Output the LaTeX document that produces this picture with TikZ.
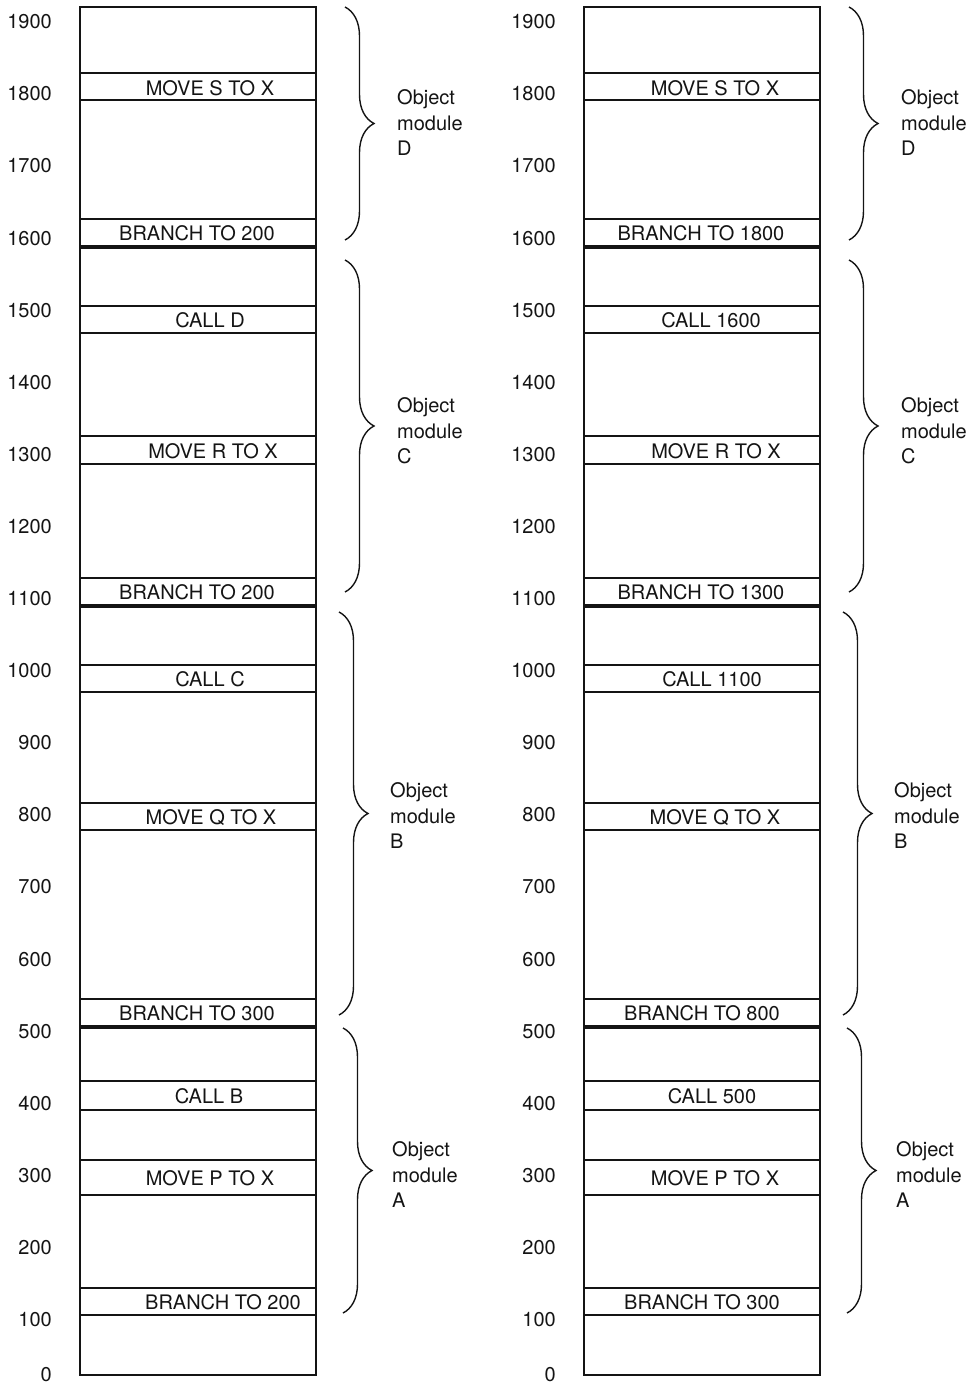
\documentclass[tikz,border=0pt]{standalone}
\usepackage{fontspec}
\setmainfont{TeX Gyre Heros}
\usetikzlibrary{decorations.pathreplacing}
\definecolor{ink}{HTML}{141414}

\begin{document}
\begin{tikzpicture}[x=1pt,y=-1pt,
  text=ink,
  cell/.style={draw=ink,line width=1.3pt},
  split/.style={draw=ink,line width=4.5pt},
  entry/.style={font=\fontsize{20}{24}\selectfont,inner sep=0pt,
    text height=14.4pt,text depth=0pt},
  tick/.style={font=\fontsize{20}{24}\selectfont,anchor=east,inner sep=0pt,
    text height=14.4pt,text depth=0pt},
  module/.style={font=\fontsize{20}{25.5}\selectfont,align=left,
    anchor=west,inner sep=0pt},
  brace/.style={draw=ink,line width=1.4pt,decorate,
    decoration={brace,amplitude=29pt}}
]
  \useasboundingbox (0,0) rectangle (973,1383);

  % two memory maps: before and after relocation
  \foreach \shift/\side in {0/old,504/new}{
    \draw[cell] ({80+\shift},7) rectangle ({316+\shift},1375);
    \foreach \y in {73,100,219,306,333,436,464,578,665,692,803,830,
                    999,1081,1110,1160,1195,1288,1315}
      \draw[cell] ({80+\shift},\y) -- ({316+\shift},\y);
    \foreach \y in {247,606,1027}
      \draw[split] ({80+\shift},\y) -- ({316+\shift},\y);

    \foreach \v in {1,...,19}
      \node[tick] (tick-\side-\v) at ({52+\shift},{21.5+(19-\v)*72.1}) {\v00};
    \node[tick] (tick-\side-0) at ({52+\shift},1374) {0};

    \foreach \x/\top/\bottom/\lx/\ly/\m in {345/7/240/397/123/D,
        345/260/592/397/431/C,339/612/1015/390/816/B,
        343/1028/1313/392/1175/A}{
      \draw[brace] ({\x+\shift},\top) -- ({\x+\shift},\bottom);
      \node[module] (mod-\side-\m) at ({\lx+\shift},\ly)
        {Object\\module\\\m};
    }
  }

  \foreach \y/\xl/\tl/\xr/\tr/\n in {
      88/210/MOVE S TO X/715/MOVE S TO X/moveS,
      233/197/BRANCH TO 200/701/BRANCH TO 1800/branchD,
      320/210/CALL D/711/CALL 1600/callD,
      451/213/MOVE R TO X/716/MOVE R TO X/moveR,
      592/197/BRANCH TO 200/701/BRANCH TO 1300/branchC,
      679/210/CALL C/712/CALL 1100/callC,
      817/211/MOVE Q TO X/715/MOVE Q TO X/moveQ,
      1013/197/BRANCH TO 300/702/BRANCH TO 800/branchB,
      1096/209/CALL B/712/CALL 500/callB,
      1178/210/MOVE P TO X/715/MOVE P TO X/moveP,
      1302/223/BRANCH TO 200/702/BRANCH TO 300/branchA}{
    \node[entry] (\n-old) at (\xl,\y) {\tl};
    \node[entry] (\n-new) at (\xr,\y) {\tr};
  }
\end{tikzpicture}
\end{document}
